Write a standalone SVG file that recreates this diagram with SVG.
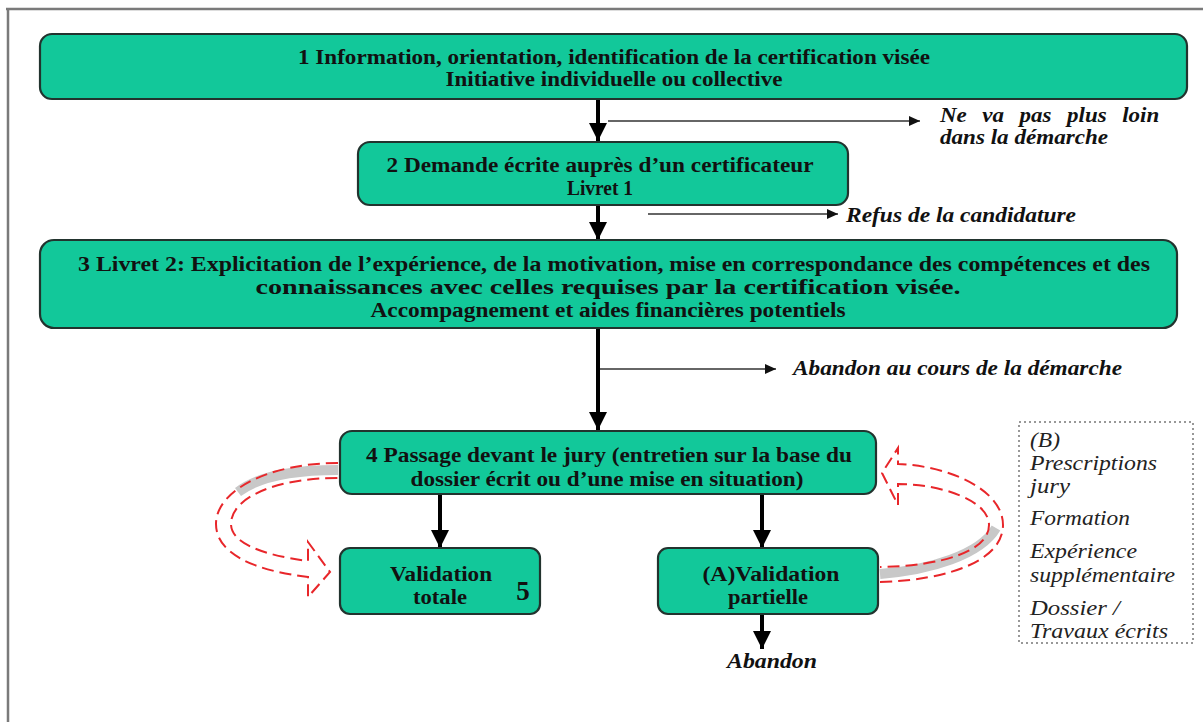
<svg xmlns="http://www.w3.org/2000/svg" width="1203" height="722" viewBox="0 0 1203 722">
<style>
.box{fill:#12c89a;stroke:#22332e;stroke-width:2.2}
.t{font-family:"Liberation Serif","Times New Roman",serif;font-weight:bold;font-size:20px;fill:#111;text-anchor:middle}
.lbl{font-family:"Liberation Serif","Times New Roman",serif;font-weight:bold;font-style:italic;font-size:20px;fill:#111}
.b{font-family:"Liberation Serif","Times New Roman",serif;font-style:italic;font-size:21px;fill:#222}
.thick{stroke:#000;stroke-width:4;fill:none}
.thin{stroke:#333;stroke-width:1.5;fill:none}
.red{stroke:#e8262a;stroke-width:2;stroke-dasharray:12 6;fill:none}
.gray{stroke:#c8c8c8;stroke-width:10;fill:none}
</style>
<defs>
<marker id="big" markerUnits="userSpaceOnUse" markerWidth="18" markerHeight="18" refX="16" refY="8" orient="auto" viewBox="0 0 16 16"><path d="M0,0 L16,8 L0,16 z" fill="#000"/></marker>
<marker id="small" markerUnits="userSpaceOnUse" markerWidth="12" markerHeight="10" refX="11" refY="5" orient="auto" viewBox="0 0 11 10"><path d="M0,0 L11,5 L0,10 z" fill="#111"/></marker>
</defs>
<rect width="1203" height="722" fill="#fff"/>
<g id="frame">
<line x1="6" y1="9" x2="1203" y2="9" stroke="#7a7a7a" stroke-width="2.5"/>
<line x1="8" y1="8" x2="8" y2="722" stroke="#7a7a7a" stroke-width="2.5"/>
</g>
<g id="connectors">
<line class="thick" x1="598" y1="99" x2="598" y2="141" marker-end="url(#big)"/>
<line class="thick" x1="598" y1="205" x2="598" y2="240" marker-end="url(#big)"/>
<line class="thick" x1="598" y1="328" x2="598" y2="430" marker-end="url(#big)"/>
<line class="thick" x1="440" y1="494" x2="440" y2="548" marker-end="url(#big)"/>
<line class="thick" x1="762" y1="494" x2="762" y2="548" marker-end="url(#big)"/>
<line class="thick" x1="762" y1="614" x2="762" y2="649" marker-end="url(#big)"/>
<line class="thin" x1="608" y1="121" x2="920" y2="121" marker-end="url(#small)"/>
<line class="thin" x1="648" y1="214" x2="838" y2="214" marker-end="url(#small)"/>
<line class="thin" x1="600" y1="369" x2="776" y2="369" marker-end="url(#small)"/>
<g id="loop-left">
<path class="gray" d="M338,470 C300,470 262,474 238,492"/>
<path class="red" d="M338,463 C270,463 216,490 216,524 C216,552 250,570 308,577 L308,597 L330,572 L308,542 L308,561 C262,555 231,543 231,524 C231,498 275,478 338,478"/>
</g>
<g id="loop-right">
<path class="gray" d="M880,574 C930,570 980,555 996,528"/>
<path class="red" d="M880,582 C950,580 1003,560 1003,525 C1003,490 950,466 898,464 L898,448 L882,473 L898,505 L898,484 C940,484 989,500 989,525 C989,552 940,566 880,567"/>
</g>
</g>
<g id="n1">
<rect class="box" x="40" y="34" width="1147" height="65" rx="12"/>
<text class="t" x="614" y="64" textLength="632" lengthAdjust="spacingAndGlyphs">1 Information, orientation, identification de la certification visée</text>
<text class="t" x="614" y="86" textLength="337" lengthAdjust="spacingAndGlyphs">Initiative individuelle ou collective</text>
</g>
<g id="n2">
<rect class="box" x="358" y="142" width="490" height="63" rx="12"/>
<text class="t" x="600" y="172" textLength="427" lengthAdjust="spacingAndGlyphs">2 Demande écrite  auprès d’un certificateur</text>
<text class="t" x="600" y="195" textLength="66" lengthAdjust="spacingAndGlyphs">Livret 1</text>
</g>
<g id="n3">
<rect class="box" x="40" y="240" width="1137" height="88" rx="14"/>
<text class="t" x="614" y="271" textLength="1072" lengthAdjust="spacingAndGlyphs">3 Livret 2: Explicitation de l’expérience, de la motivation, mise en correspondance des compétences et des</text>
<text class="t" x="608" y="294" textLength="705" lengthAdjust="spacingAndGlyphs">connaissances avec celles requises par la certification visée.</text>
<text class="t" x="608" y="317" textLength="475" lengthAdjust="spacingAndGlyphs">Accompagnement et aides financières potentiels</text>
</g>
<g id="n4">
<rect class="box" x="340" y="431" width="536" height="63" rx="12"/>
<text class="t" x="609" y="462" textLength="486" lengthAdjust="spacingAndGlyphs">4 Passage devant le jury (entretien sur la base du</text>
<text class="t" x="607" y="486" textLength="393" lengthAdjust="spacingAndGlyphs">dossier écrit ou d’une mise en situation)</text>
</g>
<g id="n5">
<rect class="box" x="340" y="548" width="200" height="66" rx="10"/>
<text class="t" x="441" y="581" textLength="102" lengthAdjust="spacingAndGlyphs">Validation</text>
<text class="t" x="440" y="604" textLength="54" lengthAdjust="spacingAndGlyphs">totale</text>
<text class="t" x="523" y="600" style="font-size:27px">5</text>
</g>
<g id="nA">
<rect class="box" x="658" y="548" width="220" height="66" rx="10"/>
<text class="t" x="771" y="581" textLength="137" lengthAdjust="spacingAndGlyphs">(A)Validation</text>
<text class="t" x="768" y="604" textLength="80" lengthAdjust="spacingAndGlyphs">partielle</text>
</g>
<g id="labels">
<text class="lbl" transform="translate(940,122) scale(1.15,1)" x="0" y="0" word-spacing="8.5">Ne va pas plus loin</text>
<text class="lbl" x="940" y="144" textLength="168" lengthAdjust="spacingAndGlyphs">dans la démarche</text>
<text class="lbl" x="846" y="222" textLength="230" lengthAdjust="spacingAndGlyphs">Refus de la candidature</text>
<text class="lbl" x="793" y="375" textLength="329" lengthAdjust="spacingAndGlyphs">Abandon au cours de la démarche</text>
<text class="lbl" x="727" y="668" textLength="90" lengthAdjust="spacingAndGlyphs">Abandon</text>
</g>
<g id="nB">
<rect x="1019" y="422" width="174" height="221" fill="none" stroke="#777" stroke-width="1.5" stroke-dasharray="2 3"/>
<text class="b" x="1030" y="447" textLength="30" lengthAdjust="spacingAndGlyphs">(B)</text>
<text class="b" x="1030" y="470" textLength="127" lengthAdjust="spacingAndGlyphs">Prescriptions</text>
<text class="b" x="1030" y="493" textLength="40" lengthAdjust="spacingAndGlyphs">jury</text>
<text class="b" x="1030" y="525" textLength="100" lengthAdjust="spacingAndGlyphs">Formation</text>
<text class="b" x="1030" y="558" textLength="107" lengthAdjust="spacingAndGlyphs">Expérience</text>
<text class="b" x="1030" y="582" textLength="145" lengthAdjust="spacingAndGlyphs">supplémentaire</text>
<text class="b" x="1030" y="615" textLength="90" lengthAdjust="spacingAndGlyphs">Dossier /</text>
<text class="b" x="1030" y="638" textLength="138" lengthAdjust="spacingAndGlyphs">Travaux écrits</text>
</g>
</svg>
